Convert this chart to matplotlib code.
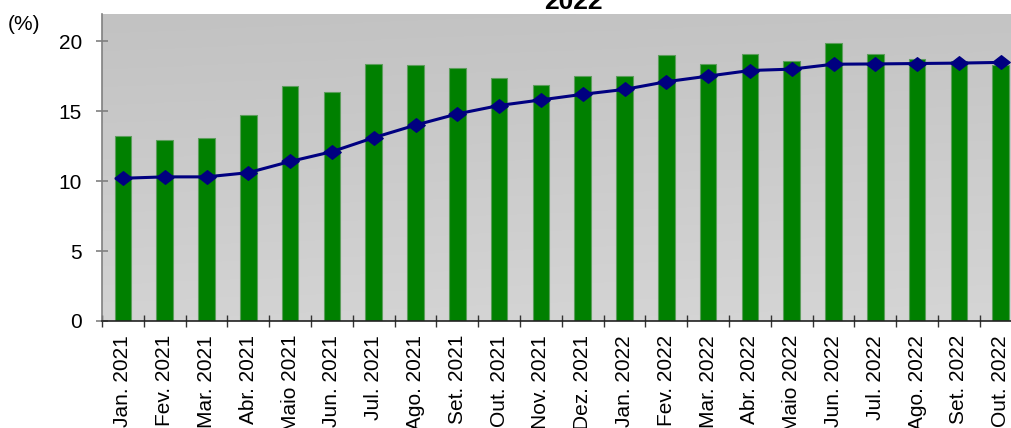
import numpy as np
import matplotlib.pyplot as plt
from matplotlib.colors import LinearSegmentedColormap

plt.rcParams['font.family'] = ['Liberation Sans', 'DejaVu Sans']

meses = ["Jan. 2021", "Fev. 2021", "Mar. 2021", "Abr. 2021", "Maio 2021", "Jun. 2021",
         "Jul. 2021", "Ago. 2021", "Set. 2021", "Out. 2021", "Nov. 2021", "Dez. 2021",
         "Jan. 2022", "Fev. 2022", "Mar. 2022", "Abr. 2022", "Maio 2022", "Jun. 2022",
         "Jul. 2022", "Ago. 2022", "Set. 2022", "Out. 2022"]

# barras (mensal)
barras = [13.2, 12.9, 13.1, 14.7, 16.8, 16.4, 18.4, 18.3, 18.1, 17.4, 16.9, 17.5,
          17.5, 19.0, 18.4, 19.1, 18.6, 19.9, 19.1, 18.7, 18.6, 18.3]

# linha (media)
linha = [10.2, 10.3, 10.3, 10.6, 11.4, 12.1, 13.1, 14.0, 14.8, 15.4, 15.8, 16.2,
         16.55, 17.1, 17.5, 17.9, 18.0, 18.35, 18.37, 18.4, 18.43, 18.48]

fig = plt.figure(figsize=(10.11, 4.28), dpi=100)
ax = fig.add_axes([0.1009, 0.25, 0.9096, 0.717])

x = np.arange(len(meses))
ax.set_xlim(-0.5, len(meses) - 0.5)
ax.set_ylim(0, 21.93)

# fundo em gradiente cinza
grad = np.linspace(0, 1, 256).reshape(-1, 1) + np.linspace(0, 0.12, 64).reshape(1, -1)
ax.imshow(grad, extent=[-0.5, len(meses) - 0.5, 0, 21.93], origin='upper',
          cmap=LinearSegmentedColormap.from_list('g', ['#c2c2c2', '#d5d5d5']),
          aspect='auto', zorder=0)

diamante = [(-1, 0), (0, 0.78), (1, 0), (0, -0.78), (-1, 0)]
ax.bar(x, barras, width=0.4, color='#008000', edgecolor='#5c9e5c', linewidth=0.8, zorder=2)
ax.plot(x, linha, color='#000080', linewidth=2.2, marker=diamante, markersize=12.5,
        markerfacecolor='#000080', markeredgecolor='#000080', zorder=3)

ax.set_yticks([0, 5, 10, 15, 20])
ax.set_xticks(x)
ax.set_xticklabels(meses, rotation=90, fontsize=15, va='top')
ax.set_xticks(np.arange(-0.5, len(meses)), minor=True)
ax.tick_params(axis='x', which='major', length=0, pad=10)
ax.tick_params(axis='x', which='minor', direction='inout', length=9, color='#333333', width=1)
ax.tick_params(axis='y', direction='inout', length=9, color='#808080', width=1.2,
               labelsize=15, pad=10)

for s in ['top', 'right']:
    ax.spines[s].set_visible(False)
ax.spines['left'].set_color('#808080')
ax.spines['left'].set_linewidth(1.2)
ax.spines['bottom'].set_color('#222222')
ax.spines['bottom'].set_linewidth(1.2)

fig.text(0.008, 0.93, "(%)", fontsize=15, ha='left', va='baseline')
fig.text(0.567, 0.978, "2022", fontsize=19, fontweight='bold', ha='center', va='baseline')

plt.savefig('out.png', dpi=100)
